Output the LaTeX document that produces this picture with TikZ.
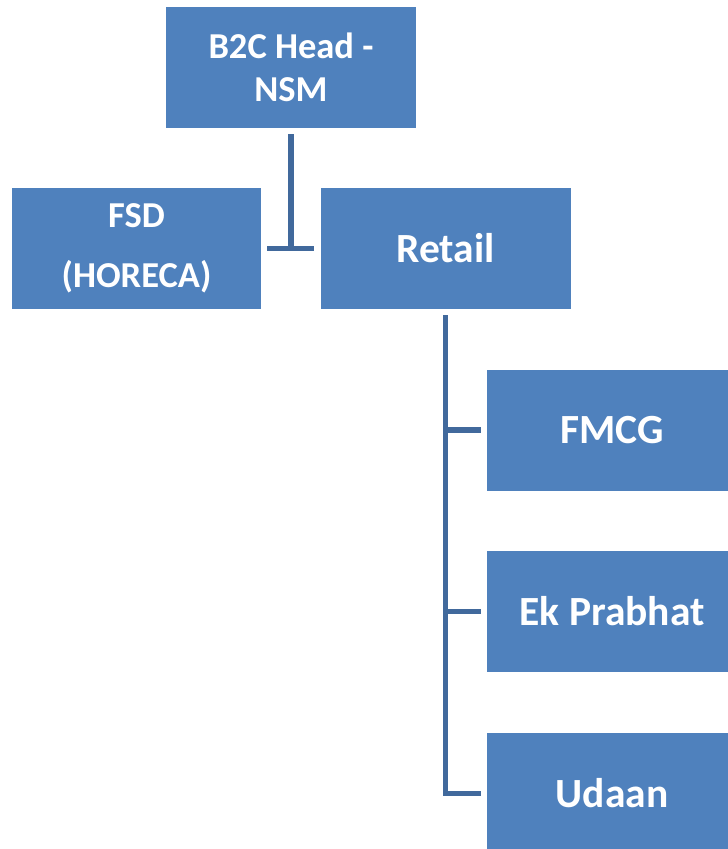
\documentclass[tikz,border=0pt]{standalone}
\usepackage{fontspec}
\setmainfont{Carlito}
\definecolor{boxblue}{HTML}{4F81BD}
\definecolor{linkblue}{HTML}{41699C}

\begin{document}
\begin{tikzpicture}[x=1pt, y=-1pt,
    unit/.style={fill=boxblue, text=white, font=\bfseries, align=center,
        minimum width=250pt, minimum height=121pt, inner sep=0pt},
    top/.style={unit, font=\fontsize{36.5}{43}\selectfont\bfseries},
    sub/.style={unit, font=\fontsize{41.5}{48}\selectfont\bfseries},
    link/.style={draw=linkblue, line width=5.5pt}]
    \useasboundingbox (0,0) rectangle (728,849);

    \node[top] (head) at (291,67.5) {B2C Head -\\NSM};
    \node[top, minimum width=249pt] (fsd) at (136.5,248.5) {FSD\\[17pt](HORECA)};
    \node[sub] (retail) at (445.5,248.5) {Retail};
    \node[sub] (fmcg) at (612,430) {FMCG};
    \node[sub] (ek) at (612,611.5) {Ek Prabhat};
    \node[sub] (udaan) at (612,793.5) {Udaan};

    \coordinate (hub) at (head.south |- fsd.east);

    \draw[link, shorten <=6pt] (head.south) -- (hub);
    \draw[link, shorten <=6pt, shorten >=6pt] (fsd.east) -- (retail.west);

    \draw[link, shorten <=6pt] (retail.south) |- ([xshift=-6pt]udaan.west);
    \foreach \n in {fmcg,ek}
        \draw[link] (retail.south |- \n.west) -- ([xshift=-6pt]\n.west);
\end{tikzpicture}
\end{document}
